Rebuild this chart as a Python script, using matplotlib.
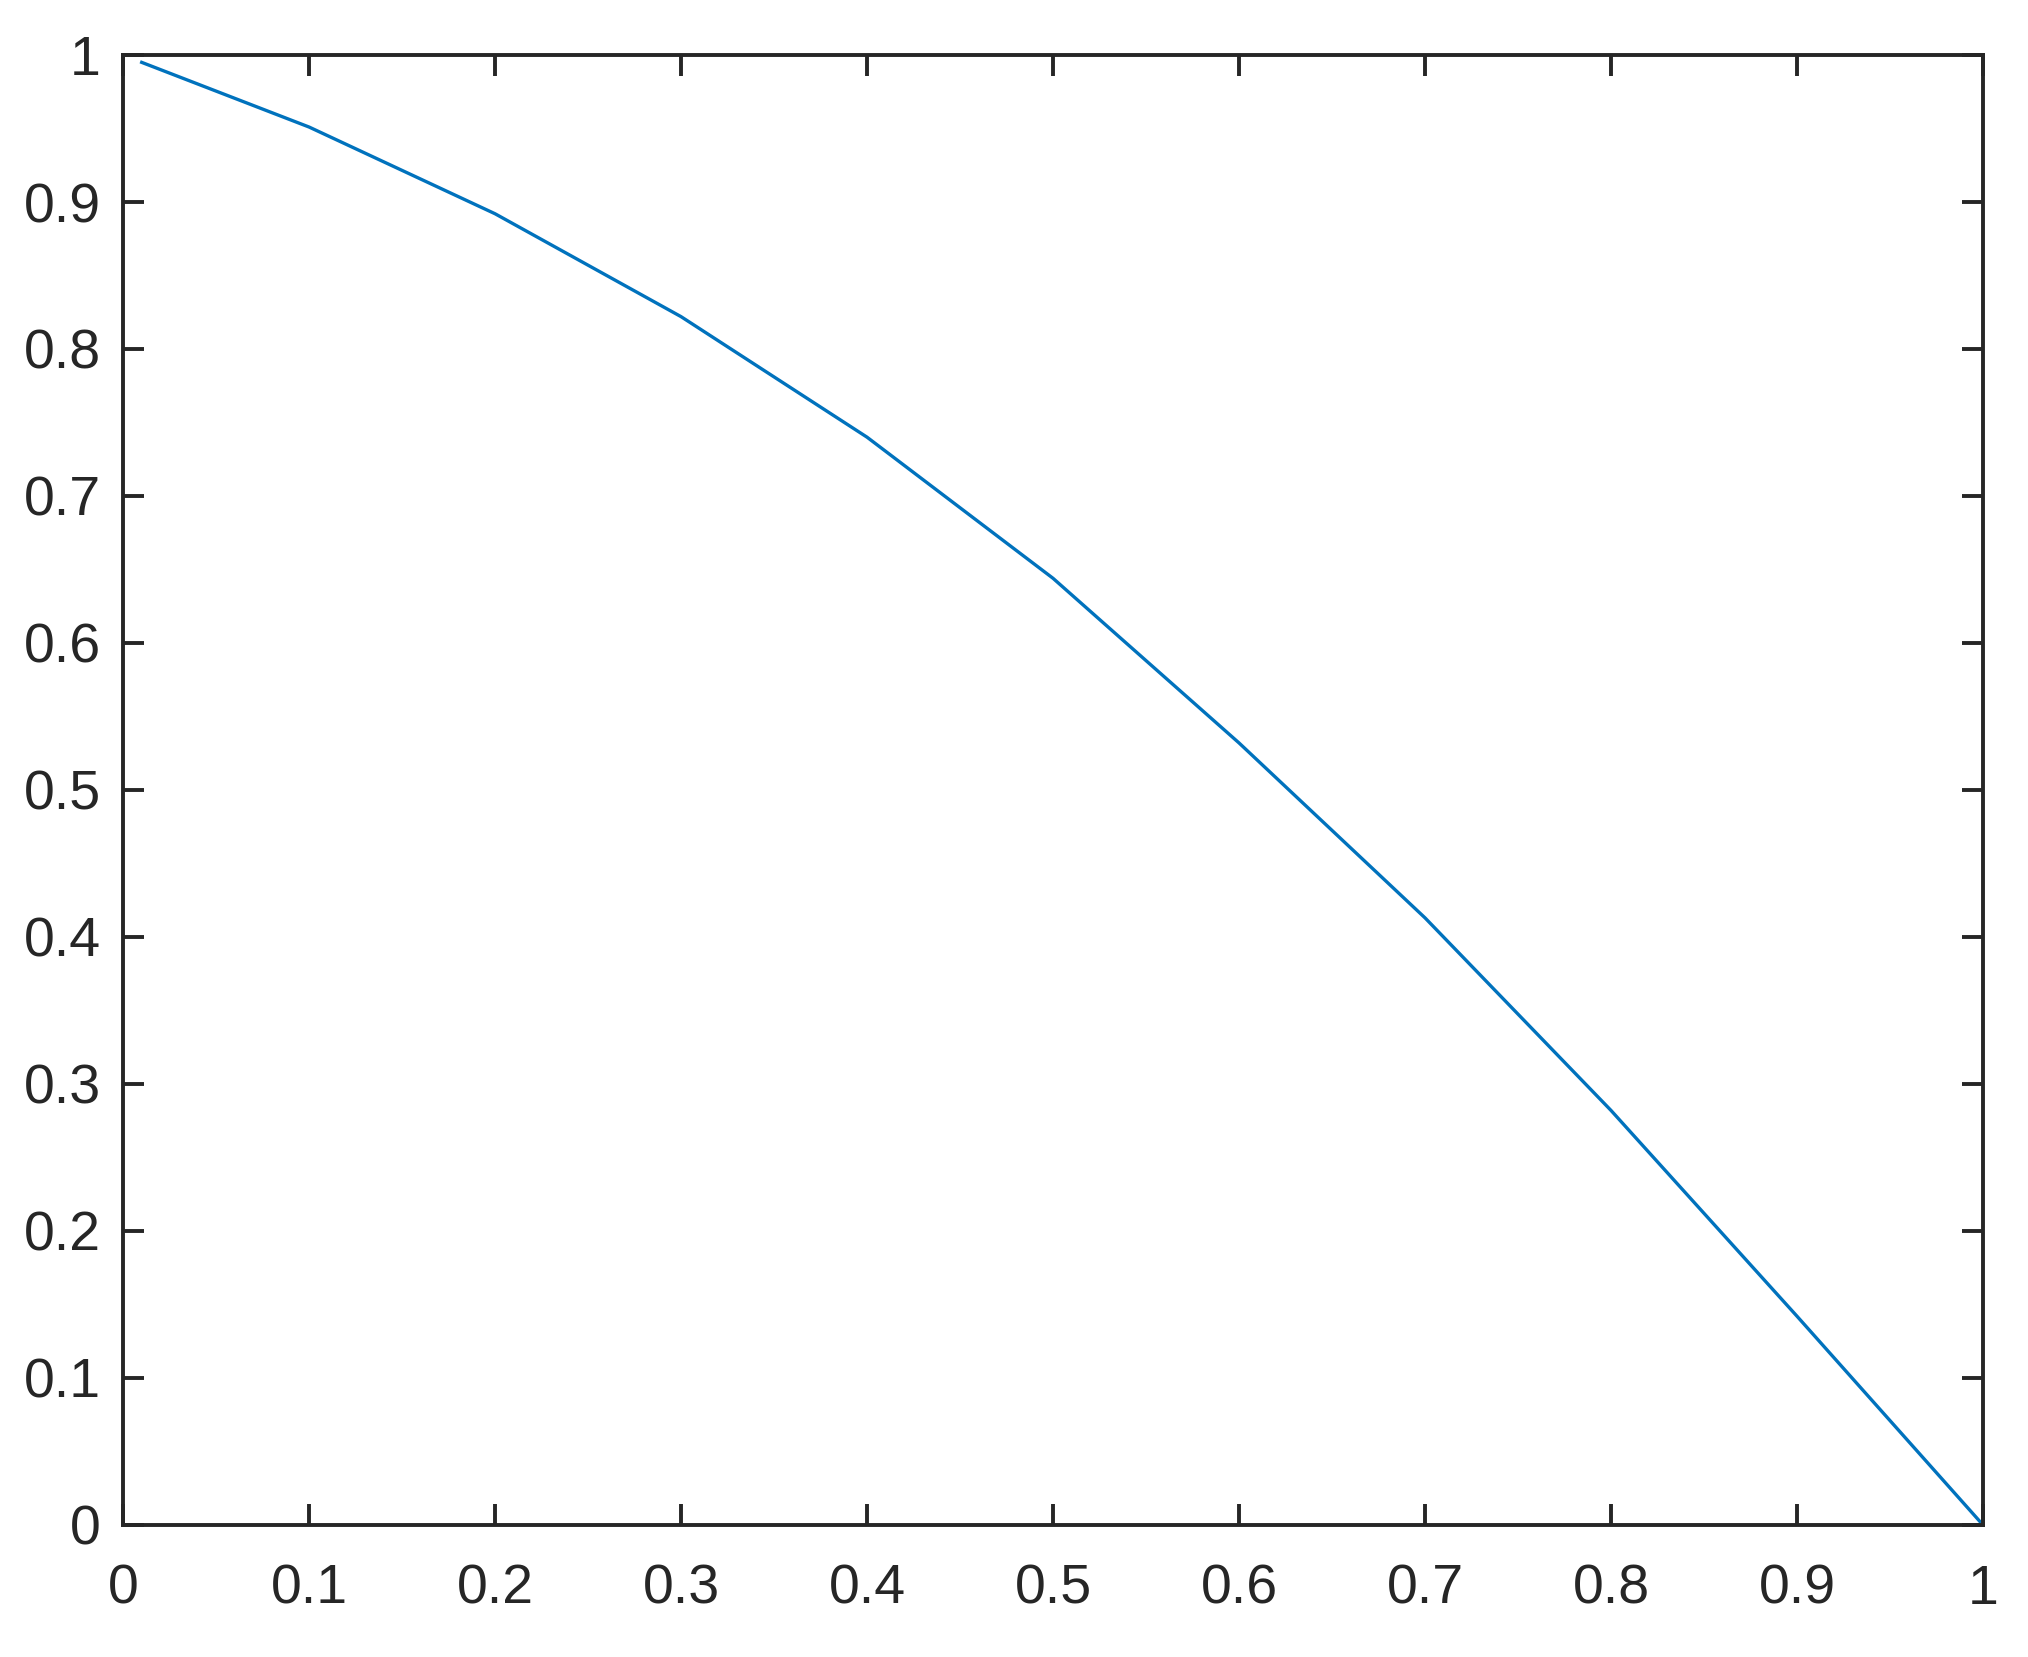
import numpy as np
import matplotlib
matplotlib.use('Agg')
import matplotlib.pyplot as plt

plt.rcParams['font.family'] = ['Liberation Sans', 'DejaVu Sans']

# values
x = [0.01, 0.1, 0.2, 0.3, 0.4, 0.5, 0.6, 0.7, 0.8, 0.9, 1.0]
y = [0.995, 0.951, 0.892, 0.822, 0.740, 0.644, 0.532, 0.413, 0.282, 0.142, 0.0]

xticks = np.arange(0, 1.01, 0.1)
yticks = np.arange(0, 1.01, 0.1)
tick_labels = ['0', '0.1', '0.2', '0.3', '0.4', '0.5', '0.6', '0.7', '0.8', '0.9', '1']

fig = plt.figure(figsize=(10.14, 8.285), dpi=200)
ax = fig.add_axes([0.0607, 0.0797, 0.9171, 0.8871])

ax.plot(x, y, color='#0072BD', linewidth=1.2)

ax.set_xlim(0, 1)
ax.set_ylim(0, 1)
ax.set_xticks(xticks)
ax.set_yticks(yticks)
ax.set_xticklabels(tick_labels)
ax.set_yticklabels(tick_labels)

for s in ax.spines.values():
    s.set_linewidth(1.4)
    s.set_color('#262626')
ax.tick_params(axis='both', direction='in', length=7.6, width=1.4,
               colors='#262626', labelsize=20,
               top=True, right=True)
ax.tick_params(axis='x', pad=14)
ax.tick_params(axis='y', pad=8)

fig.savefig('out.png', dpi=200)
